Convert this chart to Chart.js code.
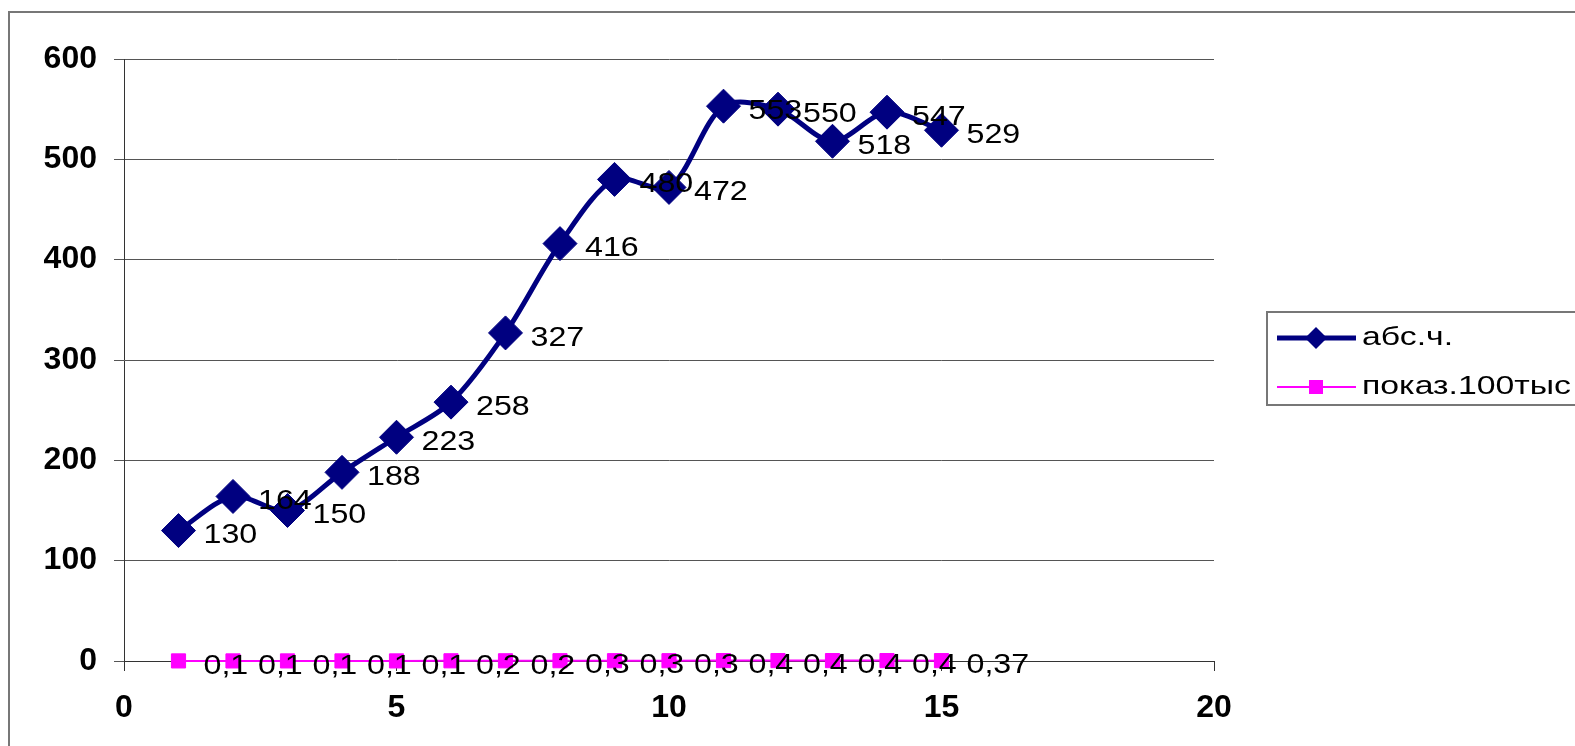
<!DOCTYPE html>
<html>
<head>
<meta charset="utf-8">
<script src="https://cdn.jsdelivr.net/npm/chart.js@4.4.1/dist/chart.umd.min.js"></script>
<style>
html, body { margin: 0; background: #fff; overflow: hidden; }
canvas { display: block; }
</style>
</head>
<body>
<canvas id="chart" width="1575" height="746"></canvas>
<script>
// data
var xValues = [1, 2, 3, 4, 5, 6, 7, 8, 9, 10, 11, 12, 13, 14, 15];
var absValues = [130, 164, 150, 188, 223, 258, 327, 416, 480, 472, 553, 550, 518, 547, 529];
var pokazValues = [0.1, 0.1, 0.1, 0.1, 0.1, 0.2, 0.2, 0.3, 0.3, 0.3, 0.4, 0.4, 0.4, 0.4, 0.37];
var seriesNames = ["абс.ч.", "показ.100тыс"];
var xTicks = [0, 5, 10, 15, 20];
var yTicks = [0, 100, 200, 300, 400, 500, 600];

var NAVY = "#000080";
var PINK = "#ff00ff";

function toPoints(vals) {
    var pts = [];
    for (var i = 0; i < vals.length; i++) {
        pts.push({ x: xValues[i], y: vals[i] });
    }
    return pts;
}

function fmt(v) {
    return String(v).replace(".", ",");
}

// text stretched a bit sideways like the old picture
function stretchText(ctx, txt, x, y, sx) {
    ctx.save();
    ctx.translate(x, y);
    ctx.scale(sx, 1);
    ctx.fillText(txt, 0, 0);
    ctx.restore();
}

var valueLabels = {
    id: "valueLabels",
    afterDatasetsDraw: function(chart) {
        var ctx = chart.ctx;
        ctx.save();
        ctx.font = "28px 'Liberation Sans', Arial, sans-serif";
        ctx.fillStyle = "#000";
        ctx.textAlign = "left";
        ctx.textBaseline = "middle";
        chart.data.datasets.forEach(function(ds, di) {
            var meta = chart.getDatasetMeta(di);
            meta.data.forEach(function(pt, i) {
                stretchText(ctx, fmt(ds.data[i].y), pt.x + 25, pt.y + 5, 1.15);
            });
        });
        ctx.restore();
    }
};

var frameAndLegend = {
    id: "frameAndLegend",
    afterDraw: function(chart) {
        var ctx = chart.ctx;
        var W = chart.width;
        ctx.save();
        // outer frame (only top and left are visible)
        ctx.strokeStyle = "#777";
        ctx.lineWidth = 2;
        ctx.beginPath();
        ctx.moveTo(9, 746);
        ctx.lineTo(9, 12);
        ctx.lineTo(W, 12);
        ctx.stroke();

        // legend box, cut off at the right edge
        ctx.beginPath();
        ctx.moveTo(W, 312);
        ctx.lineTo(1267, 312);
        ctx.lineTo(1267, 405);
        ctx.lineTo(W, 405);
        ctx.stroke();

        var rows = [
            { y: 338, color: NAVY, lw: 5, style: "diamond" },
            { y: 387, color: PINK, lw: 2, style: "square" }
        ];
        rows.forEach(function(r, i) {
            ctx.strokeStyle = r.color;
            ctx.fillStyle = r.color;
            ctx.lineWidth = r.lw;
            ctx.beginPath();
            ctx.moveTo(1277, r.y);
            ctx.lineTo(1356, r.y);
            ctx.stroke();
            var cx = 1316;
            ctx.beginPath();
            if (r.style === "diamond") {
                ctx.moveTo(cx - 11, r.y);
                ctx.lineTo(cx, r.y - 11);
                ctx.lineTo(cx + 11, r.y);
                ctx.lineTo(cx, r.y + 11);
            } else {
                ctx.rect(cx - 7, r.y - 7, 14, 14);
            }
            ctx.closePath();
            ctx.fill();
            ctx.fillStyle = "#000";
            ctx.font = "26px 'Liberation Sans', Arial, sans-serif";
            ctx.textAlign = "left";
            ctx.textBaseline = "middle";
            stretchText(ctx, seriesNames[i], 1362, r.y, 1.3);
        });
        ctx.restore();
    }
};

var tickFont = { family: "'Liberation Sans', Arial, sans-serif", size: 32, weight: "bold" };

var ctx = document.getElementById("chart");
new Chart(ctx, {
    type: "line",
    data: {
        datasets: [
            {
                label: seriesNames[0],
                data: toPoints(absValues),
                borderColor: NAVY,
                backgroundColor: NAVY,
                borderWidth: 5,
                tension: 0.3,
                pointStyle: "rectRot",
                pointRadius: 17,
                pointBorderWidth: 1,
                pointBackgroundColor: NAVY,
                pointBorderColor: NAVY
            },
            {
                label: seriesNames[1],
                data: toPoints(pokazValues),
                borderColor: PINK,
                backgroundColor: PINK,
                borderWidth: 2,
                tension: 0,
                pointStyle: "rect",
                pointRadius: 10,
                pointBorderWidth: 1,
                pointBackgroundColor: PINK,
                pointBorderColor: PINK
            }
        ]
    },
    options: {
        responsive: false,
        animation: false,
        clip: false,
        layout: { padding: { left: 0, right: 361, top: 59, bottom: 0 } },
        plugins: {
            legend: { display: false },
            tooltip: { enabled: false }
        },
        scales: {
            x: {
                type: "linear",
                min: 0,
                max: 20,
                afterBuildTicks: function(scale) {
                    scale.ticks = xTicks.map(function(v) { return { value: v }; });
                },
                afterFit: function(scale) { scale.height = 85; },
                grid: { drawOnChartArea: false, drawTicks: true, tickLength: 10, color: "#333" },
                border: { display: true, color: "#333", width: 1 },
                ticks: { font: tickFont, color: "#000", padding: 18, maxRotation: 0 }
            },
            y: {
                min: 0,
                max: 600,
                afterBuildTicks: function(scale) {
                    scale.ticks = yTicks.map(function(v) { return { value: v }; });
                },
                afterFit: function(scale) { scale.width = 124; },
                grid: { color: "#555", tickLength: 10 },
                border: { display: true, color: "#333", width: 1 },
                ticks: { font: tickFont, color: "#000", padding: 17 }
            }
        }
    },
    plugins: [valueLabels, frameAndLegend]
});
</script>
</body>
</html>
